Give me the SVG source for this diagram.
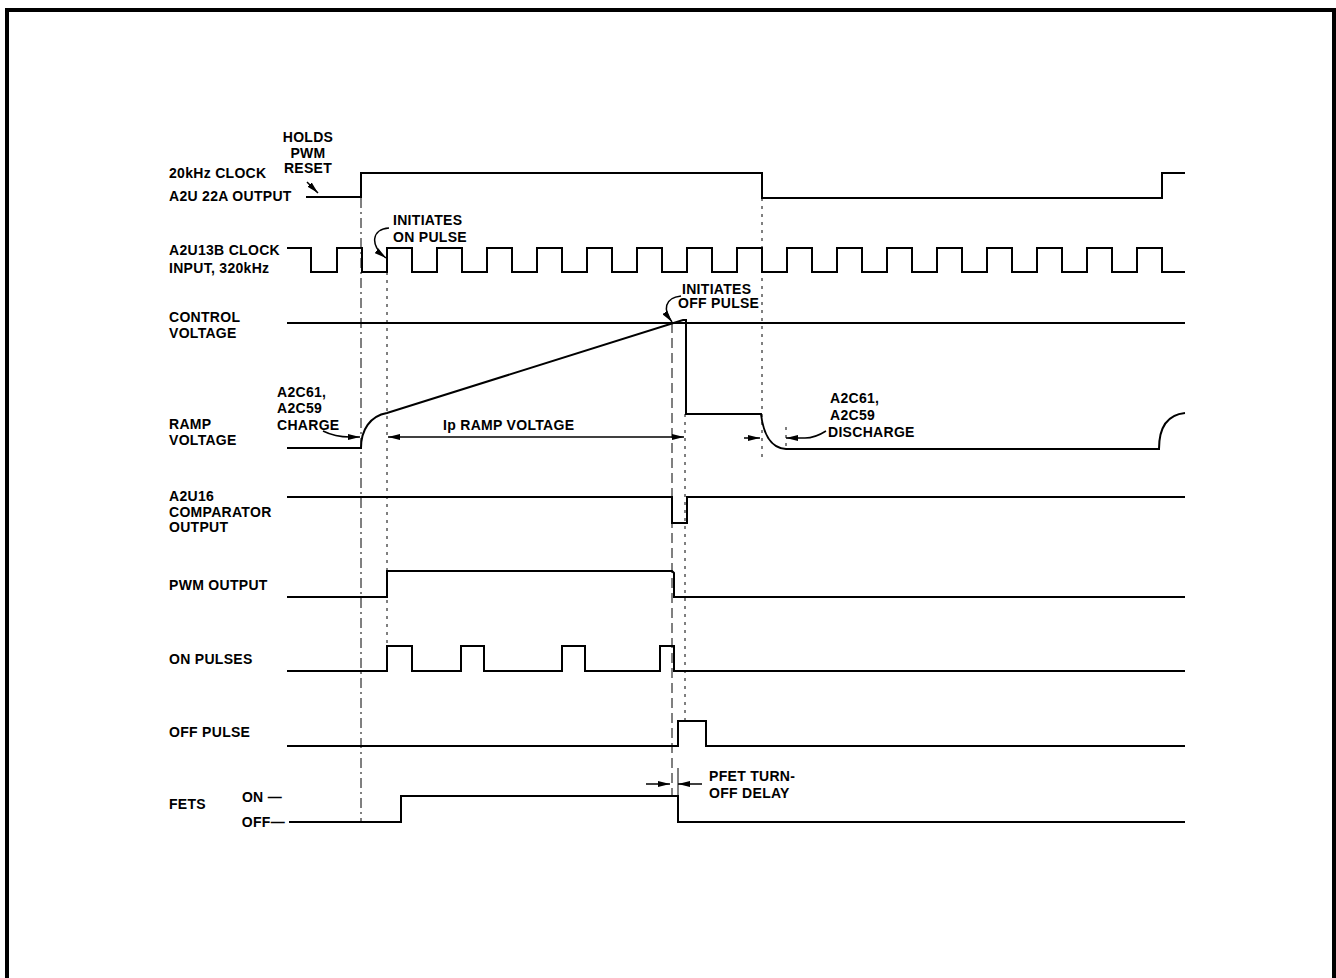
<svg xmlns="http://www.w3.org/2000/svg" width="1336" height="978" viewBox="0 0 1336 978">
<style>
  .bg{fill:#fff}
  .frame{fill:none;stroke:#000;stroke-width:4}
  .w{fill:none;stroke:#000;stroke-width:2;stroke-linejoin:miter}
  .t{font-family:"Liberation Sans",Arial,sans-serif;font-size:14px;font-weight:bold;fill:#000;letter-spacing:0.3px}
  .dd{fill:none;stroke:#000;stroke-width:1;stroke-dasharray:10 4 2 4}
  .dt{fill:none;stroke:#000;stroke-width:1;stroke-dasharray:3 5}
  .ds{fill:none;stroke:#000;stroke-width:1;stroke-dasharray:10 5}
  .ar{fill:none;stroke:#000;stroke-width:1.5}
  .tk{fill:none;stroke:#000;stroke-width:1}
</style>
<defs>
  <marker id="ah" viewBox="0 0 12 6" refX="12" refY="3" markerWidth="12" markerHeight="6" orient="auto-start-reverse" markerUnits="userSpaceOnUse">
    <path d="M0,0 L12,3 L0,6 z" fill="#000"/>
  </marker>
</defs>
<rect class="bg" x="0" y="0" width="1336" height="978"/>
<path class="frame" d="M7,980 V10 H1334 V980"/>

<g id="clock20k">
  <text class="t" x="169" y="178">20kHz CLOCK</text>
  <text class="t" x="169" y="201">A2U 22A OUTPUT</text>
  <path class="w" d="M306,197 H361 V173 H762 V198 H1162 V173 H1185"/>
</g>

<g id="holds-note">
  <text class="t" x="308" y="142" text-anchor="middle">HOLDS</text>
  <text class="t" x="308" y="158" text-anchor="middle">PWM</text>
  <text class="t" x="308" y="173" text-anchor="middle">RESET</text>
</g>

<g id="clock320k">
  <text class="t" x="169" y="255">A2U13B CLOCK</text>
  <text class="t" x="169" y="273">INPUT, 320kHz</text>
  <path class="w" d="M287,248 H311 V272 H337 V248 H362 V272 H387 V248 H412 V272 H437 V248 H462 V272 H487 V248 H512 V272 H537 V248 H562 V272 H587 V248 H612 V272 H637 V248 H662 V272 H687 V248 H712 V272 H737 V248 H762 V272 H787 V248 H812 V272 H837 V248 H862 V272 H887 V248 H912 V272 H937 V248 H962 V272 H987 V248 H1012 V272 H1037 V248 H1062 V272 H1087 V248 H1112 V272 H1137 V248 H1162 V272 H1185"/>
</g>

<g id="on-note">
  <text class="t" x="393" y="225">INITIATES</text>
  <text class="t" x="393" y="242">ON PULSE</text>
</g>

<g id="off-note">
  <text class="t" x="682" y="294">INITIATES</text>
  <text class="t" x="678" y="308">OFF PULSE</text>
</g>

<g id="control">
  <text class="t" x="169" y="322">CONTROL</text>
  <text class="t" x="169" y="338">VOLTAGE</text>
  <path class="w" d="M287,323 H1185"/>
</g>

<g id="ramp">
  <text class="t" x="169" y="429">RAMP</text>
  <text class="t" x="169" y="445">VOLTAGE</text>
  <path class="w" d="M287,448 H361 C361,430 370,416 387,413 L683,320 H686 V414 H761 C763,432 770,448 786,449 H1159 C1159,430 1165,415 1185,413"/>
</g>

<g id="charge-note">
  <text class="t" x="277" y="397">A2C61,</text>
  <text class="t" x="277" y="413">A2C59</text>
  <text class="t" x="277" y="430">CHARGE</text>
</g>

<g id="ramp-dim">
  <text class="t" x="443" y="430">Ip RAMP VOLTAGE</text>
</g>

<g id="discharge-note">
  <text class="t" x="830" y="403">A2C61,</text>
  <text class="t" x="830" y="420">A2C59</text>
  <text class="t" x="828" y="437">DISCHARGE</text>
</g>

<g id="comparator">
  <text class="t" x="169" y="501">A2U16</text>
  <text class="t" x="169" y="517">COMPARATOR</text>
  <text class="t" x="169" y="532">OUTPUT</text>
  <path class="w" d="M287,497 H672 V523 H687 V497 H1185"/>
</g>

<g id="pwm">
  <text class="t" x="169" y="590">PWM OUTPUT</text>
  <path class="w" d="M287,597 H387 V571 H672 L674,573 V597 H1185"/>
</g>

<g id="onpulses">
  <text class="t" x="169" y="664">ON PULSES</text>
  <path class="w" d="M287,671 H387 V646 H412 V671 H461 V646 H484 V671 H562 V646 H585 V671 H660 V646 H674 V671 H1185"/>
</g>

<g id="offpulse">
  <text class="t" x="169" y="737">OFF PULSE</text>
  <path class="w" d="M287,746 H678 V721 H706 V746 H1185"/>
</g>

<g id="fets">
  <text class="t" x="169" y="809">FETS</text>
  <text class="t" x="282" y="802" text-anchor="end">ON —</text>
  <text class="t" x="285" y="827" text-anchor="end">OFF—</text>
  <path class="w" d="M289,822 H401 V796 H678 V822 H1185"/>
</g>

<g id="pfet-note">
  <text class="t" x="709" y="781">PFET TURN-</text>
  <text class="t" x="709" y="798">OFF DELAY</text>
</g>

<g id="connectors">
  <path class="dd" d="M361,198 V822"/>
  <path class="dt" d="M387,272 V646"/>
  <path class="ds" d="M672,323 V796"/>
  <path class="dt" d="M685,414 V720"/>
  <path class="dt" d="M762,198 V460"/>
  <path class="dt" d="M786,427 V450"/>
  <path class="ar" d="M307,182 L318,193" marker-end="url(#ah)"/>
  <path class="ar" d="M389,228 C372,229 369,245 386,258" marker-end="url(#ah)"/>
  <path class="ar" d="M681,296 C664,298 663,310 672,322" marker-end="url(#ah)"/>
  <path class="ar" d="M323,431 Q335,437 350,437 L360,437" marker-end="url(#ah)"/>
  <path class="ar" d="M388,437 H684" marker-start="url(#ah)" marker-end="url(#ah)"/>
  <path class="ar" d="M744,438 H760" marker-end="url(#ah)"/>
  <path class="ar" d="M826,431 Q815,438 805,438 L786,438" marker-end="url(#ah)"/>
  <path class="ar" d="M646,784 H670" marker-end="url(#ah)"/>
  <path class="ar" d="M702,784 H678" marker-end="url(#ah)"/>
  <path class="tk" d="M678,768 V796"/>
</g>
</svg>
